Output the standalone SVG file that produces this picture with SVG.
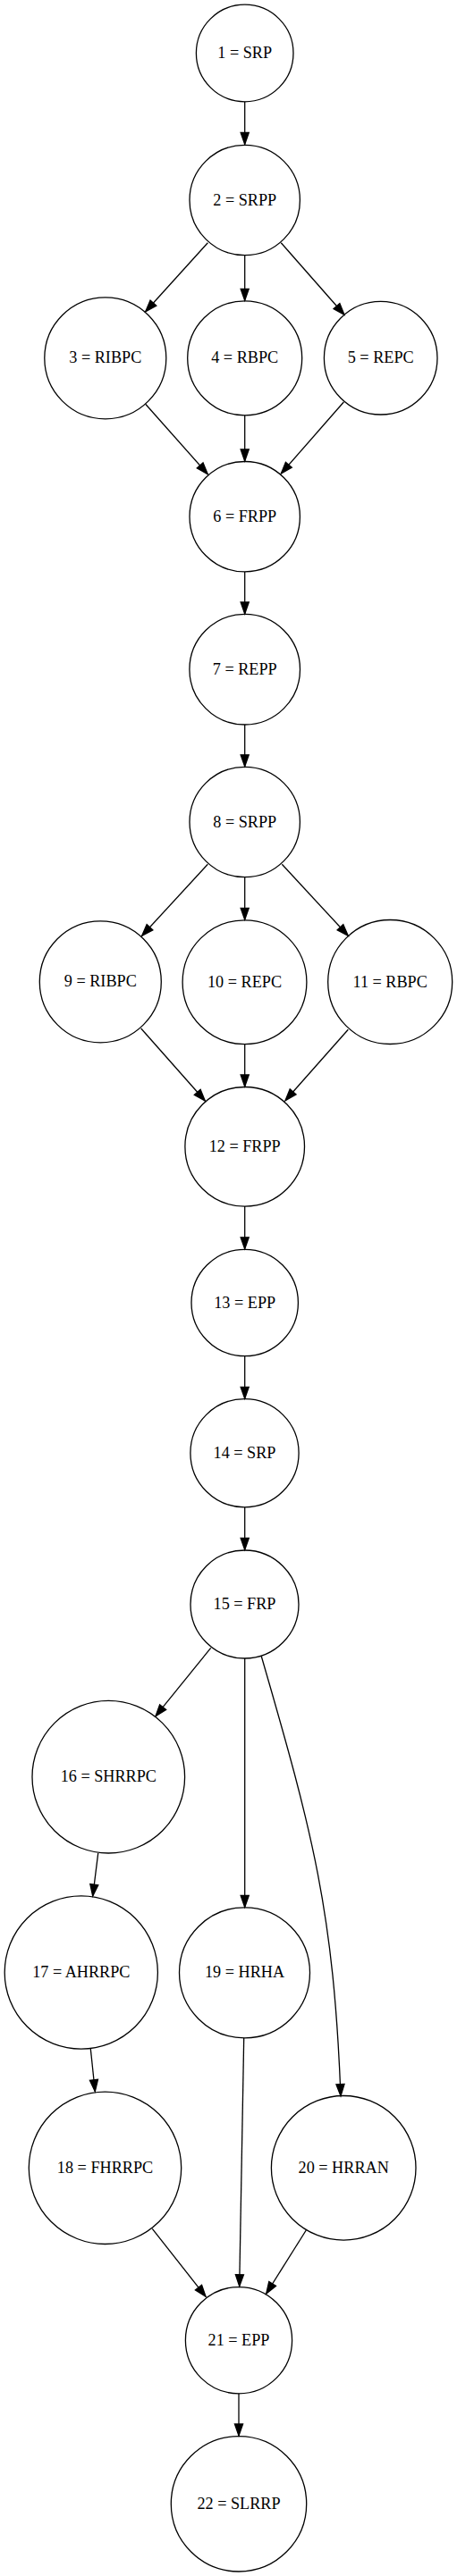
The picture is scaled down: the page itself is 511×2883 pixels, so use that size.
<svg xmlns="http://www.w3.org/2000/svg" width="511" height="2883" viewBox="0 0 511 2883">
<style>
.node circle{fill:none;stroke:#000;stroke-width:1.3}
.node text{font-family:"Liberation Serif","Times New Roman",serif;font-size:18.2px;fill:#000;text-anchor:middle}
.edge{fill:none;stroke:#000;stroke-width:1.3;marker-end:url(#arr)}
</style>
<defs>
<marker id="arr" markerUnits="userSpaceOnUse" markerWidth="16" markerHeight="12" viewBox="-1 -1 16 12" refX="13" refY="5" orient="auto" overflow="visible">
<path d="M0,0.45 L13,5 L0,9.55 z" fill="#000" stroke="#000" stroke-width="1.3"/>
</marker>
</defs>
<rect width="511" height="2883" fill="#fff"/>
<g id="connectors">
<path class="edge" d="M273.7,113.8 L273.7,161.5"/>
<path class="edge" d="M232.3,271.7 L162.7,348.7"/>
<path class="edge" d="M273.7,285.7 L273.7,336.3"/>
<path class="edge" d="M314.3,271.7 L385,352.3"/>
<path class="edge" d="M162.7,452.3 L232.3,530.7"/>
<path class="edge" d="M273.7,464.8 L273.7,516"/>
<path class="edge" d="M384.3,450 L314.3,530"/>
<path class="edge" d="M273.7,640 L273.7,687"/>
<path class="edge" d="M273.7,811 L273.7,857.8"/>
<path class="edge" d="M232.3,967.3 L158.7,1047.3"/>
<path class="edge" d="M273.7,981.7 L273.7,1029.3"/>
<path class="edge" d="M315.3,967.3 L389.3,1047.3"/>
<path class="edge" d="M157.7,1151 L229.3,1232"/>
<path class="edge" d="M273.7,1168.7 L273.7,1216"/>
<path class="edge" d="M389.3,1152.3 L319,1231.7"/>
<path class="edge" d="M273.7,1350 L273.7,1397.8"/>
<path class="edge" d="M273.7,1517.7 L273.7,1565.3"/>
<path class="edge" d="M273.7,1686.7 L273.7,1734.5"/>
<path class="edge" d="M235.7,1844.3 L174,1920.7"/>
<path class="edge" d="M273.7,1856 L273.7,2134.5"/>
<path class="edge" d="M292.3,1853.7 C350.3,2053.7 373,2140 381,2345.7"/>
<path class="edge" d="M109.7,2074 L103.7,2122"/>
<path class="edge" d="M101.3,2293 L106.3,2340.7"/>
<path class="edge" d="M170.3,2494.3 L230,2570.3"/>
<path class="edge" d="M272.7,2280.7 L267.7,2558.7"/>
<path class="edge" d="M342.3,2496 L297.7,2567"/>
<path class="edge" d="M267,2678.7 L267,2726"/>
</g>
<g id="n1" class="node"><circle cx="273.7" cy="59.5" r="54.3"/><text x="273.7" y="65">1 = SRP</text></g>
<g id="n2" class="node"><circle cx="273.7" cy="224" r="61.7"/><text x="273.7" y="229.5">2 = SRPP</text></g>
<g id="n3" class="node"><circle cx="117.8" cy="400.8" r="68"/><text x="117.8" y="406.3">3 = RIBPC</text></g>
<g id="n4" class="node"><circle cx="273.7" cy="400.8" r="64"/><text x="273.7" y="406.3">4 = RBPC</text></g>
<g id="n5" class="node"><circle cx="425.7" cy="400.7" r="63.3"/><text x="425.7" y="406.2">5 = REPC</text></g>
<g id="n6" class="node"><circle cx="273.7" cy="578.2" r="61.7"/><text x="273.7" y="583.7">6 = FRPP</text></g>
<g id="n7" class="node"><circle cx="273.7" cy="749.2" r="61.8"/><text x="273.7" y="754.7">7 = REPP</text></g>
<g id="n8" class="node"><circle cx="273.7" cy="920" r="61.7"/><text x="273.7" y="925.5">8 = SRPP</text></g>
<g id="n9" class="node"><circle cx="112.3" cy="1098.8" r="68"/><text x="112.3" y="1104.3">9 = RIBPC</text></g>
<g id="n10" class="node"><circle cx="273.5" cy="1099.2" r="69.4"/><text x="273.5" y="1104.7">10 = REPC</text></g>
<g id="n11" class="node"><circle cx="436.2" cy="1099" r="69.5"/><text x="436.2" y="1104.5">11 = RBPC</text></g>
<g id="n12" class="node"><circle cx="273.7" cy="1283.3" r="66.8"/><text x="273.7" y="1288.8">12 = FRPP</text></g>
<g id="n13" class="node"><circle cx="273.7" cy="1458" r="59.7"/><text x="273.7" y="1463.5">13 = EPP</text></g>
<g id="n14" class="node"><circle cx="273.5" cy="1626.2" r="60.6"/><text x="273.5" y="1631.7">14 = SRP</text></g>
<g id="n15" class="node"><circle cx="273.5" cy="1795.5" r="60.5"/><text x="273.5" y="1801">15 = FRP</text></g>
<g id="n16" class="node"><circle cx="121.3" cy="1988.7" r="85.3"/><text x="121.3" y="1994.2">16 = SHRRPC</text></g>
<g id="n17" class="node"><circle cx="90.8" cy="2207.5" r="85.6"/><text x="90.8" y="2213">17 = AHRRPC</text></g>
<g id="n18" class="node"><circle cx="117.5" cy="2426.3" r="85.2"/><text x="117.5" y="2431.8">18 = FHRRPC</text></g>
<g id="n19" class="node"><circle cx="273.5" cy="2207.8" r="73"/><text x="273.5" y="2213.3">19 = HRHA</text></g>
<g id="n20" class="node"><circle cx="384.2" cy="2426.3" r="80.8"/><text x="384.2" y="2431.8">20 = HRRAN</text></g>
<g id="n21" class="node"><circle cx="267" cy="2619.2" r="59.6"/><text x="267" y="2624.7">21 = EPP</text></g>
<g id="n22" class="node"><circle cx="267" cy="2802.3" r="75.7"/><text x="267" y="2807.8">22 = SLRRP</text></g>
</svg>
